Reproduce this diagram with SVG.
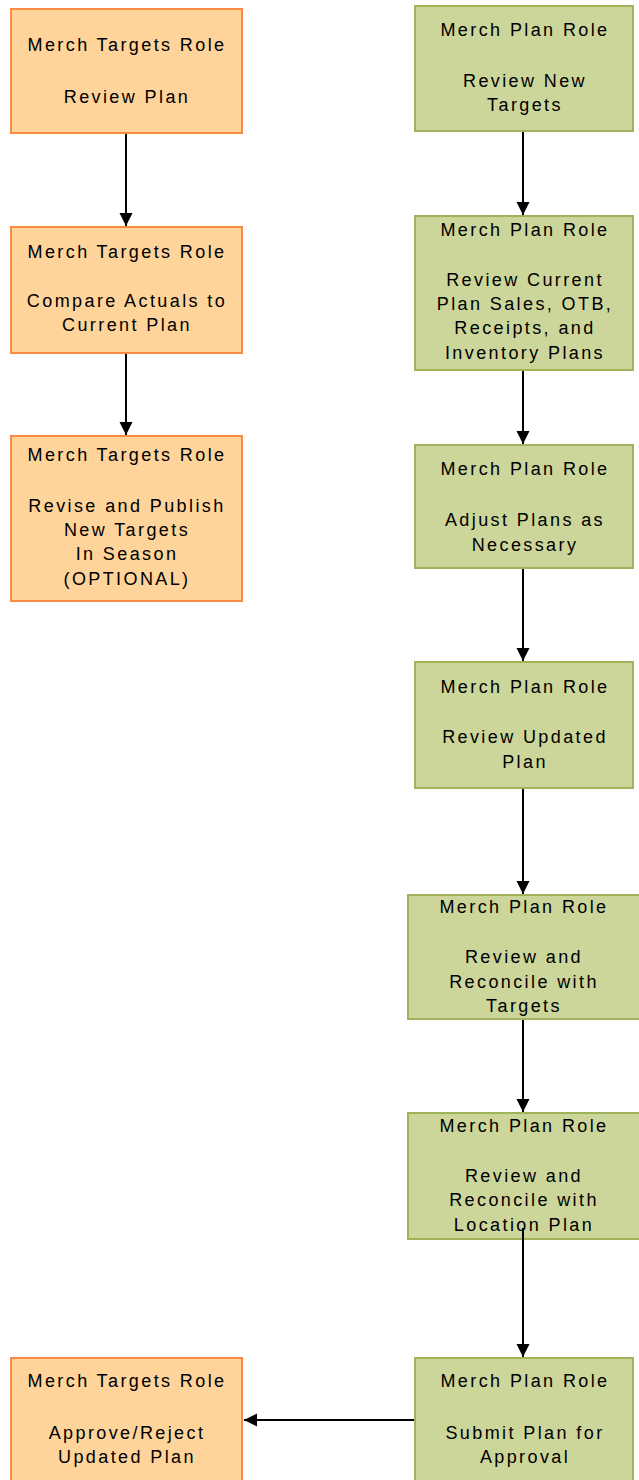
<svg xmlns="http://www.w3.org/2000/svg" width="639" height="1480" viewBox="0 0 639 1480">
<style>
.o{fill:#FFD49A;stroke:#F98B45;stroke-width:2}
.g{fill:#CCD69A;stroke:#9FB358;stroke-width:2}
text{font-family:"Liberation Sans",Arial,sans-serif;font-size:18px;letter-spacing:2.4px;fill:#000;text-anchor:middle}
.c line{stroke:#000;stroke-width:2}
</style>
<defs>
<marker id="ah" markerWidth="14" markerHeight="14" refX="13" refY="7" orient="auto" markerUnits="userSpaceOnUse">
<path d="M0,0.5 L13,7 L0,13.5 Z" fill="#000"/>
</marker>
</defs>
<rect width="639" height="1480" fill="#fff"/>
<g class="c">
<line x1="126" y1="134" x2="126" y2="226" marker-end="url(#ah)"/>
<line x1="126" y1="354" x2="126" y2="435" marker-end="url(#ah)"/>
<line x1="523" y1="132" x2="523" y2="215" marker-end="url(#ah)"/>
<line x1="523" y1="371" x2="523" y2="444" marker-end="url(#ah)"/>
<line x1="523" y1="569" x2="523" y2="661" marker-end="url(#ah)"/>
<line x1="523" y1="789" x2="523" y2="894" marker-end="url(#ah)"/>
<line x1="523" y1="1020" x2="523" y2="1112" marker-end="url(#ah)"/>
<line x1="523" y1="1228" x2="523" y2="1357" marker-end="url(#ah)"/>
<line x1="414" y1="1420" x2="244" y2="1420" marker-end="url(#ah)"/>
</g>
<g id="t1"><rect class="o" x="11" y="9" width="231" height="124"/>
<text x="127" y="50.5">Merch Targets Role</text><text x="127" y="102.5">Review Plan</text></g>
<g id="t2"><rect class="o" x="11" y="227" width="231" height="126"/>
<text x="127" y="257.5">Merch Targets Role</text><text x="127" y="306.5">Compare Actuals to</text><text x="127" y="331">Current Plan</text></g>
<g id="t3"><rect class="o" x="11" y="436" width="231" height="165"/>
<text x="127" y="460.5">Merch Targets Role</text><text x="127" y="511.5">Revise and Publish</text><text x="127" y="535.5">New Targets</text><text x="127" y="560">In Season</text><text x="127" y="584.5">(OPTIONAL)</text></g>
<g id="t4"><rect class="o" x="11" y="1358" width="231" height="130"/>
<text x="127" y="1386.5">Merch Targets Role</text><text x="127" y="1438.5">Approve/Reject</text><text x="127" y="1462.5">Updated Plan</text></g>
<g id="p1"><rect class="g" x="415" y="6" width="218" height="125"/>
<text x="525" y="35.5">Merch Plan Role</text><text x="525" y="86.5">Review New</text><text x="525" y="110.5">Targets</text></g>
<g id="p2"><rect class="g" x="415" y="216" width="218" height="154"/>
<text x="525" y="235.5">Merch Plan Role</text><text x="525" y="285.5">Review Current</text><text x="525" y="309.8">Plan Sales, OTB,</text><text x="525" y="334">Receipts, and</text><text x="525" y="358.5">Inventory Plans</text></g>
<g id="p3"><rect class="g" x="415" y="445" width="218" height="123"/>
<text x="525" y="474.5">Merch Plan Role</text><text x="525" y="525.5">Adjust Plans as</text><text x="525" y="550.5">Necessary</text></g>
<g id="p4"><rect class="g" x="415" y="662" width="218" height="126"/>
<text x="525" y="692.5">Merch Plan Role</text><text x="525" y="742.5">Review Updated</text><text x="525" y="767.5">Plan</text></g>
<g id="p5"><rect class="g" x="408" y="895" width="232" height="124"/>
<text x="524" y="913">Merch Plan Role</text><text x="524" y="963">Review and</text><text x="524" y="987.5">Reconcile with</text><text x="524" y="1012">Targets</text></g>
<g id="p6"><rect class="g" x="408" y="1113" width="232" height="126"/>
<text x="524" y="1131.5">Merch Plan Role</text><text x="524" y="1181.5">Review and</text><text x="524" y="1206">Reconcile with</text><text x="524" y="1230.5">Location Plan</text></g>
<g id="p7"><rect class="g" x="415" y="1358" width="218" height="130"/>
<text x="525" y="1386.5">Merch Plan Role</text><text x="525" y="1438.5">Submit Plan for</text><text x="525" y="1462.5">Approval</text></g>
<line x1="523" y1="1228" x2="523" y2="1240" stroke="#000" stroke-width="2"/>
</svg>
